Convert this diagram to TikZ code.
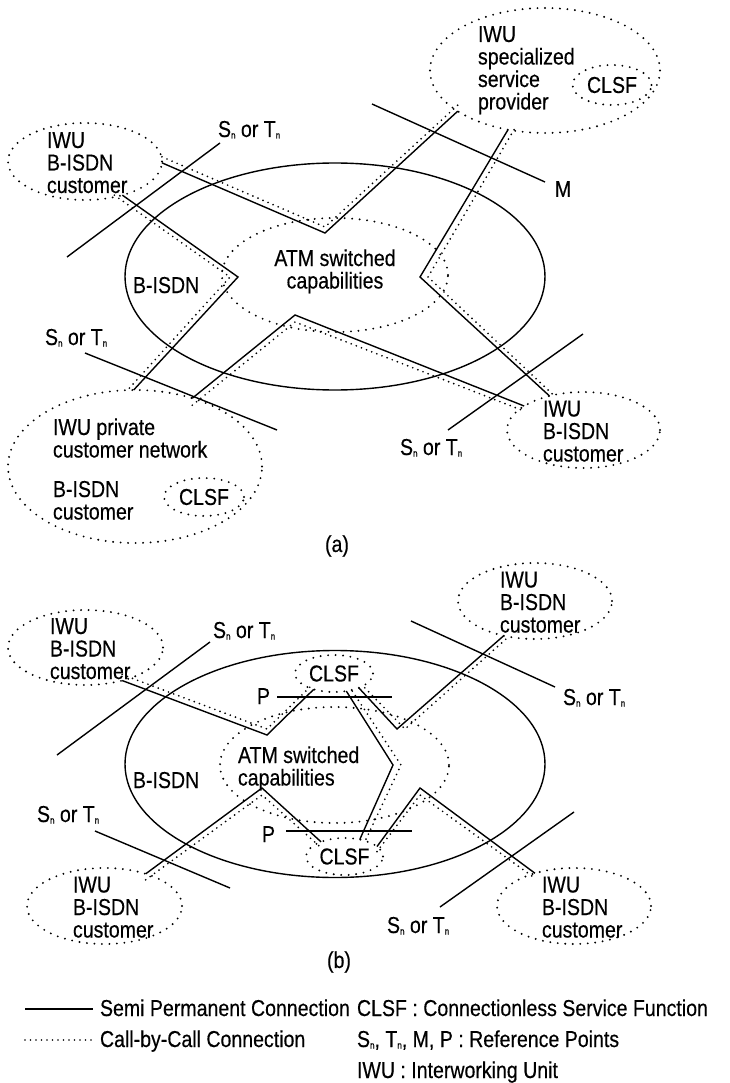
\documentclass[tikz,border=0pt]{standalone}
\usepackage{fontspec}
\setmainfont{Liberation Sans}[FakeStretch=0.85,FakeBold=0.4]
\usetikzlibrary{shapes.geometric}
\newcommand{\subn}{\raisebox{-1.5pt}{\fontsize{9.5}{9.5}\selectfont n}}
\begin{document}
\begin{tikzpicture}[x=1pt,y=-1pt,
  every node/.style={font=\fontsize{23}{22.5}\selectfont, inner sep=0pt, outer sep=0pt},
  solidline/.style={line width=1.4pt},
  callline/.style={line width=1.9pt, line cap=round, dash pattern=on 0pt off 5.5pt},
  dotell/.style={ellipse, draw, line width=2.1pt, line cap=round, dash pattern=on 0pt off 7.5pt},
  netell/.style={ellipse, draw, line width=1.4pt},
  lbl/.style={anchor=base west, align=left}]
\useasboundingbox (0,0) rectangle (730,1083);

% ---------------- (a) ----------------
% multi-line labels are placed by the baseline of their last line
\node[netell, minimum width=420pt, minimum height=227pt] (netA) at (335,276.5) {};
\node[dotell, minimum width=226pt, minimum height=114pt] (atmA) at (335,275) {};
\node[dotell, minimum width=230pt, minimum height=125pt] (spp) at (545,70.5) {};
\node[dotell, minimum width=79pt, minimum height=40pt] (sppclsf) at (612,85) {CLSF};
\node[dotell, minimum width=154pt, minimum height=77pt] (tlcA) at (85,161.5) {};
\node[dotell, minimum width=254pt, minimum height=153pt] (pcn) at (135,466.5) {};
\node[dotell, minimum width=80pt, minimum height=38pt] (pcnclsf) at (204,497) {CLSF};
\node[dotell, minimum width=153pt, minimum height=76pt] (brcA) at (583.5,430) {};

\node[lbl] (sppT) at (478,109.5) {IWU\\specialized\\service\\provider};
\node[lbl] (tlcAT) at (47,193) {IWU\\B-ISDN\\customer};
\node[lbl] (netAT) at (133,293) {B-ISDN};
\node[align=center, anchor=base] (atmAT) at (335,288.5) {ATM switched\\capabilities};
\node[lbl] (pcnT) at (53,457.5) {IWU private\\customer network};
\node[lbl] (pcnT2) at (53,519.5) {B-ISDN\\customer};
\node[lbl] (brcAT) at (543,461.5) {IWU\\B-ISDN\\customer};
\node (capA) at (337,546) {(a)};

\coordinate (v1) at (325,233);
\coordinate (v2) at (238,277);
\coordinate (v3) at (295,315);
\coordinate (v4) at (420,277);

\draw[solidline] (tlcA.-1) -- (v1) -- (spp.205);
\draw[callline] ([shift={(0,-6)}]tlcA.-1) -- ([shift={(0,-6)}]v1) -- ([shift={(0,-6)}]spp.205);
\draw[solidline] (tlcA.-42) -- (v2) -- (pcn.91.5);
\draw[callline] ([shift={(-8,0)}]tlcA.-42) -- ([shift={(-8,0)}]v2) -- ([shift={(-6,0)}]pcn.91.5);
\draw[solidline] (pcn.50.6) -- (v3) -- (brcA.158);
\draw[callline] ([shift={(0,7)}]pcn.50.6) -- ([shift={(0,7)}]v3) -- ([shift={(0,5)}]brcA.158);
\draw[solidline] (spp.238) -- (v4) -- (brcA.135.4);
\draw[callline] ([shift={(6,0)}]spp.238) -- ([shift={(8,0)}]v4) -- ([shift={(5,0)}]brcA.135.4);

% reference points (a)
\coordinate (r1a) at (220,143); \coordinate (r1b) at (67,257);
\coordinate (rMa) at (372,104); \coordinate (rMb) at (545,182);
\coordinate (r2a) at (85,353);  \coordinate (r2b) at (277,430);
\coordinate (r3a) at (583,334); \coordinate (r3b) at (448,430);
\draw[solidline] (r1a) -- (r1b);
\draw[solidline] (rMa) -- (rMb);
\draw[solidline] (r2a) -- (r2b);
\draw[solidline] (r3a) -- (r3b);
\node[lbl] (r1T) at (218,137) {S\subn{} or T\subn};
\node (rMT) at (563,189) {M};
\node[lbl] (r2T) at (45,345) {S\subn{} or T\subn};
\node[lbl] (r3T) at (400,455) {S\subn{} or T\subn};

% ---------------- (b) ----------------
\node[netell, minimum width=420pt, minimum height=227pt] (netB) at (335,764) {};
\node[dotell, minimum width=229pt, minimum height=116pt] (atmB) at (334.5,765) {};
\node[dotell, minimum width=78pt, minimum height=37pt] (clsfT) at (334,673.5) {CLSF};
\node[dotell, minimum width=77pt, minimum height=37pt] (clsfB) at (344.5,856.5) {CLSF};
\node[dotell, minimum width=155pt, minimum height=75pt] (tlcB) at (85.5,647.5) {};
\node[dotell, minimum width=154pt, minimum height=76pt] (trcB) at (535,601) {};
\node[dotell, minimum width=155pt, minimum height=76pt] (blcB) at (104.5,906) {};
\node[dotell, minimum width=154pt, minimum height=76pt] (brcB) at (574,906) {};

\node[lbl] (tlcBT) at (50,679) {IWU\\B-ISDN\\customer};
\node[lbl] (trcBT) at (500,632.5) {IWU\\B-ISDN\\customer};
\node[lbl] (blcBT) at (73,937.5) {IWU\\B-ISDN\\customer};
\node[lbl] (brcBT) at (542,937.5) {IWU\\B-ISDN\\customer};
\node[lbl] (netBT) at (133,788) {B-ISDN};
\node[lbl] (atmBT) at (238,785.5) {ATM switched\\capabilities};
\node (capB) at (339,962) {(b)};

\coordinate (vA) at (267,735);
\coordinate (vB) at (393,765);
\coordinate (vC) at (397,729);
\coordinate (vD) at (262,788);
\coordinate (vE) at (420,788);

\draw[solidline] (tlcB.-42) -- (vA) -- (clsfT.218);
\draw[callline] ([shift={(0,-6)}]tlcB.-42) -- ([shift={(0,-6)}]vA) -- ([shift={(-2,-4)}]clsfT.218);
\draw[solidline] (clsfT.305) -- (vB) -- (clsfB.48);
\draw[callline] ([shift={(6,0)}]clsfT.305) -- ([shift={(8,0)}]vB) -- ([shift={(6,0)}]clsfB.48);
\draw[solidline] (clsfT.330) -- (vC) -- (trcB.228.4);
\draw[callline] ([shift={(6,0)}]clsfT.330) -- ([shift={(8,0)}]vC) -- ([shift={(6,0)}]trcB.228.4);
\draw[solidline] (blcB.38.8) -- (vD) -- (clsfB.148);
\draw[callline] ([shift={(0,6)}]blcB.38.8) -- ([shift={(0,7)}]vD) -- ([shift={(-2,4)}]clsfB.148);
\draw[solidline] (clsfB.17.4) -- (vE) -- (brcB.140);
\draw[callline] ([shift={(0,5)}]clsfB.17.4) -- ([shift={(0,7)}]vE) -- ([shift={(0,5)}]brcB.140);

% reference points (b)
\coordinate (r4a) at (210,642); \coordinate (r4b) at (57,755);
\coordinate (r5a) at (411,621); \coordinate (r5b) at (555,687);
\coordinate (r6a) at (95,831);  \coordinate (r6b) at (230,888);
\coordinate (r7a) at (574,812); \coordinate (r7b) at (440,907);
\coordinate (pTa) at (277,697); \coordinate (pTb) at (392,697);
\coordinate (pBa) at (286,831); \coordinate (pBb) at (412,831);
\draw[solidline] (r4a) -- (r4b);
\draw[solidline] (r5a) -- (r5b);
\draw[solidline] (r6a) -- (r6b);
\draw[solidline] (r7a) -- (r7b);
\draw[solidline] (pTa) -- (pTb);
\draw[solidline] (pBa) -- (pBb);
\node[lbl] (r4T) at (213,638) {S\subn{} or T\subn};
\node[lbl] (r5T) at (563,705) {S\subn{} or T\subn};
\node[lbl] (r6T) at (37,822) {S\subn{} or T\subn};
\node[lbl] (r7T) at (387,933) {S\subn{} or T\subn};
\node[lbl] (pTT) at (257,704) {P};
\node[lbl] (pBT) at (262,842) {P};

% ---------------- legend ----------------
\coordinate (lg1a) at (25,1009); \coordinate (lg1b) at (93,1009);
\coordinate (lg2a) at (25,1040); \coordinate (lg2b) at (93,1040);
\draw[solidline] (lg1a) -- (lg1b);
\draw[callline] (lg2a) -- (lg2b);
\node[lbl] (lg1T) at (100,1016) {Semi Permanent Connection};
\node[lbl] (lg2T) at (100,1047) {Call-by-Call Connection};
\node[lbl] (lg3T) at (357,1016) {CLSF : Connectionless Service Function};
\node[lbl] (lg4T) at (357,1047) {S\subn, T\subn, M, P : Reference Points};
\node[lbl] (lg5T) at (357,1078) {IWU : Interworking Unit};
\end{tikzpicture}
\end{document}
